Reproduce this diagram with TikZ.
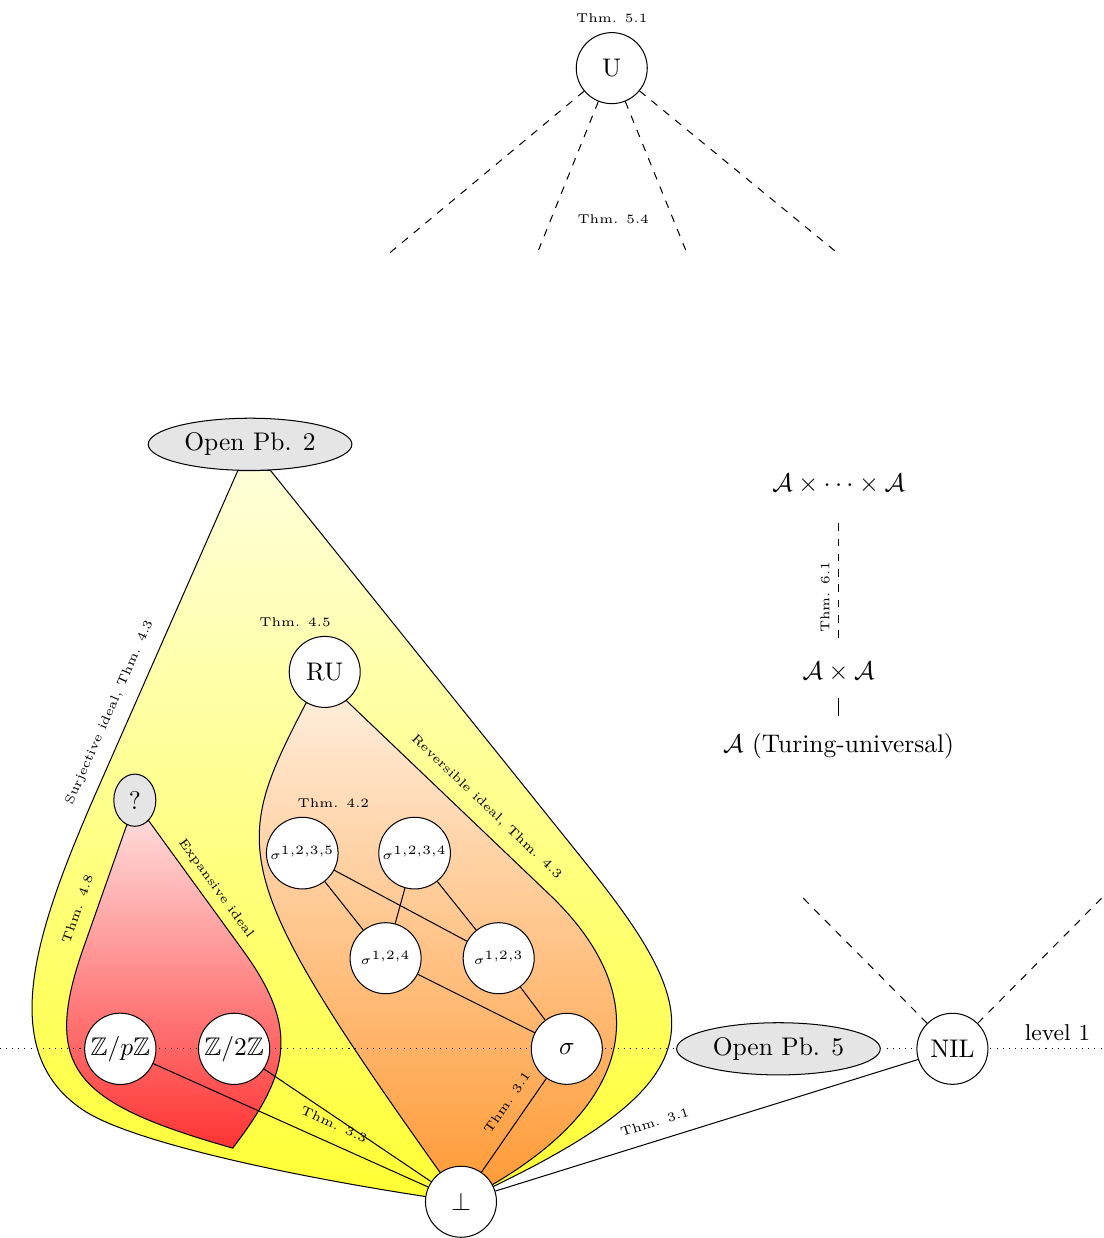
\documentclass[tikz,border=0pt]{standalone}
\usepackage{amsmath,amssymb}
\usetikzlibrary{shapes.geometric,backgrounds}

\tikzset{
  st/.style={circle, draw, fill=white, minimum size=0.98cm, inner sep=1pt},
  open/.style={ellipse, draw, fill=gray!20, minimum width=2.81cm, minimum height=0.72cm, inner sep=1pt},
  thm/.style={font=\tiny},
}

\begin{document}
\begin{tikzpicture}
\useasboundingbox (0,0) rectangle (15.23,17.08);
% universal classes
\node[st, label={[thm]above:Thm. 5.1}] (U) at (8.44,16.14) {U};
\foreach \x/\y [count=\i] in {5.34/13.56, 7.43/13.63, 9.46/13.63, 11.59/13.56} {
  \coordinate (u\i) at (\x,\y);
  \draw[dashed] (U) -- (u\i);
}
\node[thm] (t54) at (8.46,14.06) {Thm. 5.4};

% products of A
\node (prodn) at (11.57,10.41) {$\mathcal{A}\times\cdots\times\mathcal{A}$};
\node (prod2) at (11.57,7.81) {$\mathcal{A}\times\mathcal{A}$};
\node (turing) at (11.57,6.79) {$\mathcal{A}$ (Turing-universal)};
\draw[dashed, shorten <=6pt, shorten >=8pt] (prod2) -- node[thm, sloped, above, pos=0.37] {Thm. 6.1} (prodn);
\draw[shorten <=3pt, shorten >=3pt] (prod2) -- (turing);

% level 1 and below
\node[open] (op2) at (3.45,10.95) {Open Pb. 2};
\node[st, label={[thm, xshift=-0.41cm]above:Thm. 4.5}] (RU) at (4.48,7.81) {RU};
\node[ellipse, draw, fill=gray!20, minimum width=0.58cm, minimum height=0.72cm, inner sep=0pt] (q) at (1.86,6.04) {?};
\node[st, font=\tiny, label={[thm, xshift=0.43cm]above:Thm. 4.2}] (s1235) at (4.17,5.31) {$\sigma^{1,2,3,5}$};
\node[st, font=\tiny] (s1234) at (5.72,5.31) {$\sigma^{1,2,3,4}$};
\node[st, font=\tiny] (s124) at (5.32,3.86) {$\sigma^{1,2,4}$};
\node[st, font=\tiny] (s123) at (6.88,3.86) {$\sigma^{1,2,3}$};
\node[st] (sigma) at (7.82,2.61) {$\sigma$};
\node[st] (zp) at (1.66,2.61) {$\mathbb{Z}/p\mathbb{Z}$};
\node[st] (z2) at (3.23,2.61) {$\mathbb{Z}/2\mathbb{Z}$};
\node[st] (bot) at (6.36,0.50) {$\bot$};
\node[open] (op5) at (10.74,2.61) {Open Pb. 5};
\node[st] (nil) at (13.14,2.61) {NIL};
\node[font=\small] (lvl) at (14.59,2.83) {level 1};
\coordinate (n1) at (11.08,4.69);
\coordinate (n2) at (15.23,4.72);
\draw[dashed] (nil) -- (n1);
\draw[dashed] (nil) -- (n2);

\begin{scope}[on background layer]
% surjective ideal
\draw[top color=yellow!15, bottom color=yellow!80]
  (op2.245) -- node[thm, sloped, above=2pt, pos=0.77] {Surjective ideal, Thm. 4.3} (1.31,6.11)
  .. controls (0.51,4.27) and (-0.08,2.59) .. (1.14,1.77)
  .. controls (1.83,1.30) and (4.30,0.79) .. (bot.center)
  .. controls (9.88,2.12) and (9.85,2.95) .. (8.14,5.10)
  -- (op2.308) -- cycle;
% expansive ideal
\draw[top color=red!15, bottom color=red!80]
  (q.252) -- node[thm, sloped, above=2pt, pos=0.72] {Thm. 4.8} (1.14,3.97)
  .. controls (0.56,2.30) and (1.08,1.85) .. (3.21,1.24)
  .. controls (4.01,2.28) and (4.13,2.90) .. (3.35,3.97)
  -- node[thm, sloped, above, pos=0.41] {Expansive ideal} (q.304) -- cycle;
% reversible ideal
\draw[top color=orange!15, bottom color=orange!80]
  (RU.239) .. controls (3.17,5.35) and (3.10,5.05) .. (bot.center)
  .. controls (8.81,1.74) and (9.08,3.30) .. (7.59,4.73)
  -- node[thm, sloped, above=2pt, pos=0.38] {Reversible ideal, Thm. 4.3} (RU.307) -- cycle;
\draw[dotted] (0,2.61) -- (15.23,2.61);
\end{scope}

\draw (s1235) -- (s124);
\draw (s1235) -- (s123);
\draw (s1234) -- (s124);
\draw (s1234) -- (s123);
\draw (s124) -- (sigma);
\draw (s123) -- (sigma);
\draw (bot) -- node[thm, sloped, above=2pt, pos=0.63] {Thm. 3.1} (sigma);
\draw (zp) -- node[thm, sloped, above=2pt, pos=0.63] {Thm. 3.3} (bot);
\draw (z2) -- (bot);
\draw (bot) -- node[thm, sloped, above=2pt, pos=0.39] {Thm. 3.1} (nil);
\end{tikzpicture}
\end{document}
